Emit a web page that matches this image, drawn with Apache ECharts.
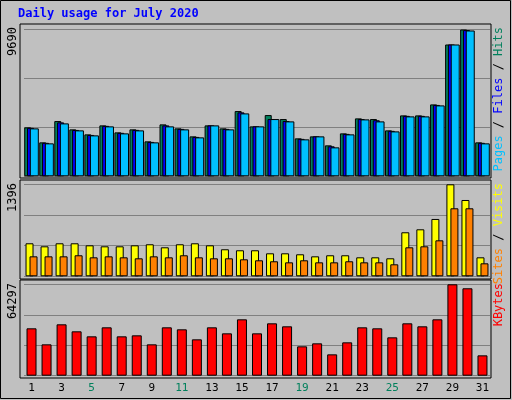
<!DOCTYPE html>
<html><head><meta charset="utf-8">
<script src="https://cdn.jsdelivr.net/npm/echarts@6/dist/echarts.min.js"></script>
<style>html,body{margin:0;padding:0;background:#c0c0c0}#c{width:512px;height:400px}</style>
</head><body><div id="c"></div>
<script>
const days = ['1','2','3','4','5','6','7','8','9','10','11','12','13','14','15','16','17','18','19','20','21','22','23','24','25','26','27','28','29','30','31'];
const weekend = ['4','5','11','12','18','19','25','26'];
const hits = [3230,2241,3647,3098,2768,3361,2900,3098,2307,3427,3164,2636,3361,3164,4306,3296,4042,3779,2505,2636,2043,2834,3823,3779,3032,4020,4020,4745,8700,9690,2241];
const files = [3200,2210,3560,3060,2730,3330,2870,3065,2270,3360,3130,2600,3361,3130,4220,3296,3779,3650,2470,2636,1980,2800,3780,3700,3000,3990,3990,4710,8700,9650,2210];
const pages = [3164,2175,3493,3032,2702,3296,2834,3032,2241,3296,3098,2570,3361,3098,4152,3296,3779,3625,2439,2636,1911,2768,3757,3625,2965,3955,3955,4680,8700,9625,2175];
const sites = [501,455,501,501,470,455,455,470,486,440,486,501,470,410,395,395,349,349,334,303,319,319,288,288,273,668,713,870,1396,1158,288];
const visits = [303,303,303,319,288,303,288,273,303,288,319,288,273,273,258,243,228,212,243,212,212,228,212,212,182,440,455,546,1032,1032,197];
const kbytes = [33327,22062,36143,31215,27695,34031,27695,28399,22062,34031,32623,25582,34031,29807,39664,29807,36848,34736,20654,22766,15021,23470,34031,33327,26991,36848,34736,39664,64297,61490,14317];
const maxHits = 9690, maxSites = 1396, maxKB = 64297;

const chart = echarts.init(document.getElementById('c'));
const F = 'DejaVu Sans Mono, monospace';
const L = 24, R = 22;
const grids = [
  {left:L,right:R,top:29.5,height:146.8},
  {left:L,right:R,top:184.3,height:92},
  {left:L,right:R,top:284.3,height:91.4}
];
function xa(i, show){return {type:'category',gridIndex:i,data:days,axisLine:{show:false},axisTick:{show:false},
  axisLabel:{show:show,fontFamily:F,fontSize:11,margin:7,color:function(v){return weekend.includes(v)?'#00805c':'#000';}}};}
function ya(i,max){return {type:'value',gridIndex:i,min:0,max:max,interval:max/3,axisLine:{show:false},axisTick:{show:false},axisLabel:{show:false},
  splitLine:{show:true,lineStyle:{color:'#808080',width:1}}};}
const bs = {borderColor:'#000',borderWidth:1};
function panel(y,h){return {type:'rect',shape:{x:20,y:y,width:471,height:h},style:{fill:'#c0c0c0',stroke:'#000',lineWidth:1},z:-10};}
function vtext(x,y,rich,txt){return {type:'text',x:x,y:y,rotation:Math.PI/2,style:{text:txt,rich:rich,font:'11px '+F,align:'right',verticalAlign:'middle'}};}
chart.setOption({
  animation:false,
  backgroundColor:'#c0c0c0',
  grid:grids,
  xAxis:[xa(0,false),xa(1,false),xa(2,true)],
  yAxis:[ya(0,maxHits),ya(1,maxSites),ya(2,maxKB)],
  series:[
    {type:'bar',xAxisIndex:0,yAxisIndex:0,data:hits,barWidth:7,barGap:'-60%',itemStyle:Object.assign({color:'#00805c'},bs)},
    {type:'bar',xAxisIndex:0,yAxisIndex:0,data:files,barWidth:7,barGap:'-60%',itemStyle:Object.assign({color:'#0000ff'},bs)},
    {type:'bar',xAxisIndex:0,yAxisIndex:0,data:pages,barWidth:9,barGap:'-60%',itemStyle:Object.assign({color:'#00c0ff'},bs)},
    {type:'bar',xAxisIndex:1,yAxisIndex:1,data:sites,barWidth:8,barGap:'-50%',itemStyle:Object.assign({color:'#ffff00'},bs)},
    {type:'bar',xAxisIndex:1,yAxisIndex:1,data:visits,barWidth:8,barGap:'-50%',itemStyle:Object.assign({color:'#ff8000'},bs)},
    {type:'bar',xAxisIndex:2,yAxisIndex:2,data:kbytes,barWidth:10,itemStyle:Object.assign({color:'#ff0000'},bs)}
  ],
  graphic:[
    {type:'rect',shape:{x:0.5,y:0.5,width:510,height:398},style:{fill:'none',stroke:'#000',lineWidth:1},z:-20},
    panel(24,154),panel(180,99),panel(280,98),
    {type:'text',left:18,top:8,style:{text:'Daily usage for July 2020',font:'bold 12px '+F,fill:'#0000ff'}},
    {type:'text',x:13,y:27,rotation:Math.PI/2,style:{text:String(maxHits),font:'12px '+F,fill:'#000',align:'right',verticalAlign:'middle'}},
    {type:'text',x:13,y:183,rotation:Math.PI/2,style:{text:String(maxSites),font:'12px '+F,fill:'#000',align:'right',verticalAlign:'middle'}},
    {type:'text',x:13,y:283,rotation:Math.PI/2,style:{text:String(maxKB),font:'12px '+F,fill:'#000',align:'right',verticalAlign:'middle'}},
    {type:'text',x:499,y:27,rotation:Math.PI/2,style:{text:'{p|Pages} {s|/} {f|Files} {s|/} {h|Hits}',align:'right',verticalAlign:'middle',font:'12px '+F,
      rich:{p:{fill:'#00c0ff',font:'12px '+F},f:{fill:'#0000ff',font:'12px '+F},h:{fill:'#00805c',font:'12px '+F},s:{fill:'#000',font:'12px '+F}}}},
    {type:'text',x:499,y:183,rotation:Math.PI/2,style:{text:'{o|Sites} {s|/} {y|Visits}',align:'right',verticalAlign:'middle',font:'12px '+F,
      rich:{o:{fill:'#ff8000',font:'12px '+F},y:{fill:'#ffff00',font:'12px '+F},s:{fill:'#000',font:'12px '+F}}}},
    {type:'text',x:499,y:283,rotation:Math.PI/2,style:{text:'KBytes',align:'right',verticalAlign:'middle',font:'12px '+F,fill:'#ff0000'}}
  ]
});
</script></body></html>
